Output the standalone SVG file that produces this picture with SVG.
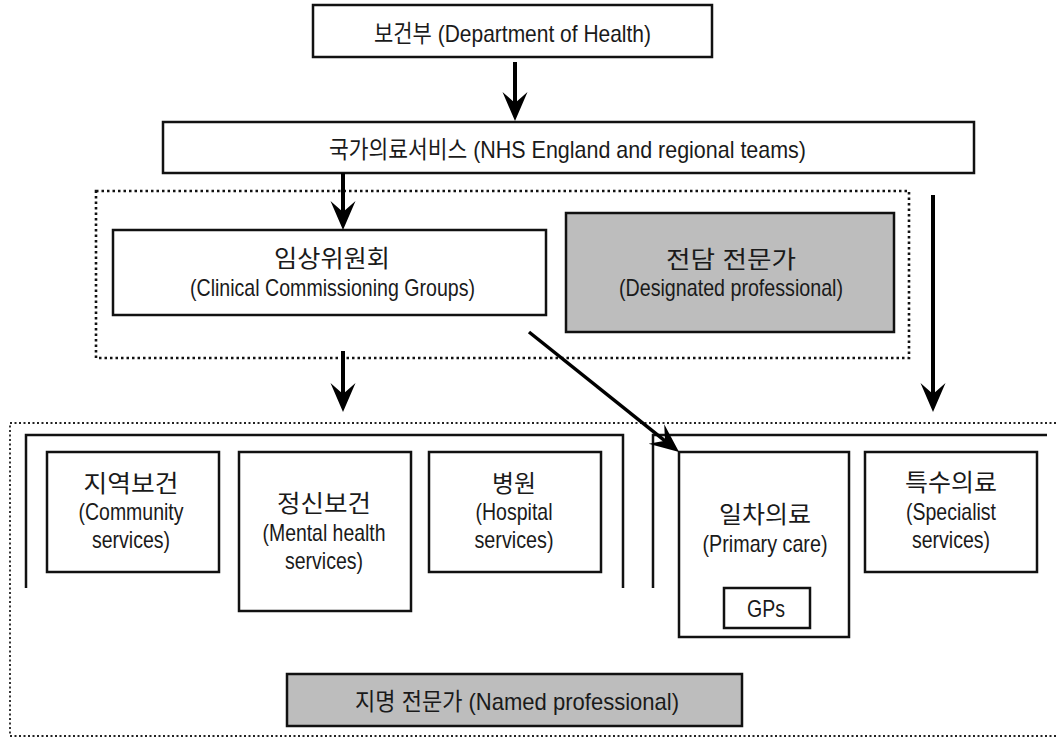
<svg xmlns="http://www.w3.org/2000/svg" width="1056" height="738" viewBox="0 0 1056 738">
<style>
.box{fill:#fff;stroke:#111;stroke-width:2.5}
.gray{fill:#bdbdbd;stroke:#111;stroke-width:2.5}
.dot{fill:none;stroke:#111;stroke-width:2.6;stroke-dasharray:2.5 3}
.dot2{fill:none;stroke:#222;stroke-width:1.8;stroke-dasharray:2 2.5}
.br{fill:none;stroke:#111;stroke-width:2.5}
.arr{fill:none;stroke:#000;stroke-width:4;marker-end:url(#ah)}
text{font-family:"Liberation Sans","Noto Sans CJK KR",sans-serif;font-size:24px;fill:#1a1a1a;text-anchor:middle}
</style>
<defs>
<marker id="ah" markerUnits="userSpaceOnUse" markerWidth="30" markerHeight="28" viewBox="-29 -14 30 28" refX="-18" refY="0" orient="auto">
<path d="M0,0 L-29,-12.5 L-18,0 L-29,12.5 Z" fill="#000"/>
</marker>
</defs>
<rect width="1056" height="738" fill="#fff"/>

<g id="groups">
<rect class="dot" x="96" y="191" width="813" height="167"/>
<path class="dot2" d="M1056,423 H10 V736 H1056"/>
<path class="br" d="M26,588 V435 H623 V588"/>
<path class="br" d="M653,588 V435 H1047"/>
</g>

<g id="doh">
<rect class="box" x="313" y="5" width="399" height="52"/>
<text x="512.5" y="42" textLength="277" lengthAdjust="spacingAndGlyphs">보건부 (Department of Health)</text>
</g>
<g id="nhs">
<rect class="box" x="163" y="122" width="811" height="51"/>
<text x="567.5" y="158" textLength="477" lengthAdjust="spacingAndGlyphs">국가의료서비스 (NHS England and regional teams)</text>
</g>
<g id="ccg">
<rect class="box" x="113" y="230" width="433" height="85"/>
<text x="332" y="267" textLength="116" lengthAdjust="spacingAndGlyphs">임상위원회</text>
<text x="332.5" y="296" textLength="285" lengthAdjust="spacingAndGlyphs">(Clinical Commissioning Groups)</text>
</g>
<g id="designated">
<rect class="gray" x="566" y="213" width="328" height="119"/>
<text x="731" y="268" textLength="130" lengthAdjust="spacingAndGlyphs">전담 전문가</text>
<text x="731" y="296" textLength="224" lengthAdjust="spacingAndGlyphs">(Designated professional)</text>
</g>
<g id="community">
<rect class="box" x="47" y="452" width="172" height="120"/>
<text x="131" y="492" textLength="95" lengthAdjust="spacingAndGlyphs">지역보건</text>
<text x="131" y="520" textLength="105" lengthAdjust="spacingAndGlyphs">(Community</text>
<text x="131" y="548" textLength="78" lengthAdjust="spacingAndGlyphs">services)</text>
</g>
<g id="mental">
<rect class="box" x="239" y="452" width="172" height="159"/>
<text x="324" y="512" textLength="94" lengthAdjust="spacingAndGlyphs">정신보건</text>
<text x="324" y="541" textLength="123" lengthAdjust="spacingAndGlyphs">(Mental health</text>
<text x="324" y="569" textLength="78" lengthAdjust="spacingAndGlyphs">services)</text>
</g>
<g id="hospital">
<rect class="box" x="429" y="452" width="172" height="120"/>
<text x="514" y="492" textLength="44" lengthAdjust="spacingAndGlyphs">병원</text>
<text x="514" y="520" textLength="77" lengthAdjust="spacingAndGlyphs">(Hospital</text>
<text x="514" y="548" textLength="79" lengthAdjust="spacingAndGlyphs">services)</text>
</g>
<g id="primary">
<rect class="box" x="679" y="452" width="170" height="185"/>
<text x="765" y="523" textLength="92" lengthAdjust="spacingAndGlyphs">일차의료</text>
<text x="765" y="552" textLength="125" lengthAdjust="spacingAndGlyphs">(Primary care)</text>
</g>
<g id="gps">
<rect class="box" x="724" y="588" width="86" height="40"/>
<text x="766" y="617" textLength="38" lengthAdjust="spacingAndGlyphs">GPs</text>
</g>
<g id="specialist">
<rect class="box" x="865" y="452" width="172" height="120"/>
<text x="951" y="491" textLength="92" lengthAdjust="spacingAndGlyphs">특수의료</text>
<text x="951" y="520" textLength="90" lengthAdjust="spacingAndGlyphs">(Specialist</text>
<text x="951" y="548" textLength="78" lengthAdjust="spacingAndGlyphs">services)</text>
</g>
<g id="named">
<rect class="gray" x="287" y="674" width="455" height="52"/>
<text x="517" y="710" textLength="324" lengthAdjust="spacingAndGlyphs">지명 전문가 (Named professional)</text>
</g>

<g id="connectors">
<line class="arr" x1="515" y1="62" x2="515" y2="103"/>
<line class="arr" x1="343" y1="173" x2="343" y2="212"/>
<line class="arr" x1="343" y1="351" x2="343" y2="394"/>
<line class="arr" x1="933" y1="195" x2="933" y2="394"/>
<line class="arr" style="stroke-width:3.5" x1="529" y1="332" x2="665" y2="440.8"/>
</g>
</svg>
